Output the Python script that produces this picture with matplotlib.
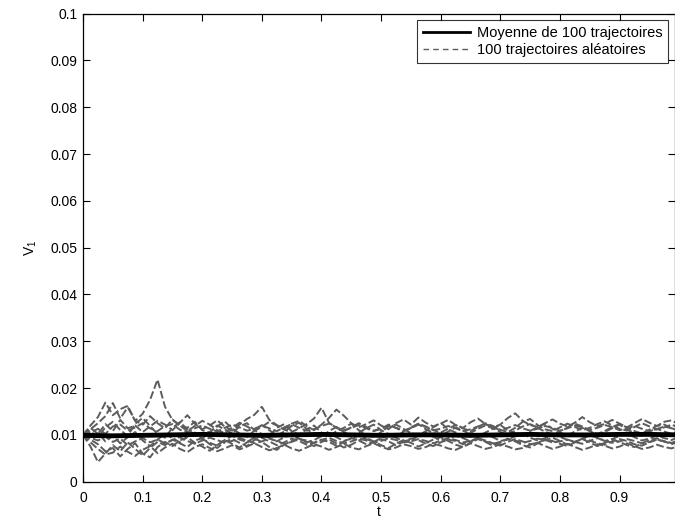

import matplotlib
matplotlib.use("Agg")
import matplotlib.pyplot as plt
import numpy as np

plt.rcParams["font.family"] = ["Liberation Sans", "DejaVu Sans"]

# values in units of 1e-3 (10.0 -> 0.010); each trajectory spans t = 0..1
traj_a = [10.0, 11.2, 12.5, 14.0, 16.8, 13.5, 15.9, 13.0, 14.5, 17.5, 21.8, 16.0, 13.2, 12.0, 11.5, 12.8,
          11.0, 10.5, 12.0, 11.2, 10.3, 11.8, 12.5, 11.0, 10.2, 9.8, 11.5, 12.3, 10.8, 10.0, 11.2, 12.0,
          10.5, 9.6, 10.8, 11.5, 12.4, 11.0, 10.1, 9.5, 10.6, 11.8, 12.2, 11.3, 10.4, 9.9, 10.8, 11.6,
          12.6, 11.2, 10.5, 9.8, 10.4, 11.3, 12.0, 11.4, 10.6, 10.0, 10.9, 11.8, 12.3, 11.5, 10.7, 10.1,
          10.8, 11.6, 12.4, 11.8, 10.9, 10.2, 10.8, 11.7, 12.3, 11.6, 10.8, 10.3, 11.1, 11.9, 12.2, 11.4, 10.9]
traj_b = [10.0, 7.5, 4.2, 6.0, 7.8, 6.5, 8.4, 7.0, 5.6, 7.2, 8.5, 7.8, 9.0, 8.2, 7.4, 8.8, 9.3, 8.0, 7.2,
          8.5, 9.1, 8.3, 7.6, 8.9, 9.4, 8.6, 7.8, 8.4, 9.2, 8.7, 7.9, 8.3, 9.0, 8.5, 7.7, 8.6, 9.3, 8.8,
          8.0, 8.4, 9.1, 8.6, 7.8, 8.5, 9.2, 8.9, 8.1, 7.6, 8.4, 9.0, 8.7, 8.0, 8.6, 9.3, 8.8, 8.2, 7.7,
          8.5, 9.1, 8.6, 8.0, 8.3, 9.0, 8.7, 8.1, 7.6, 8.4, 9.2, 8.8, 8.2, 7.9, 8.6, 9.1, 8.7, 8.0, 7.7,
          8.4, 9.0, 8.6, 8.2, 8.8]
traj_c = [10.0, 12.0, 13.8, 16.9, 14.2, 15.5, 16.2, 13.0, 12.2, 14.0, 12.5, 11.4, 13.3, 12.0, 10.8, 11.9,
          13.0, 12.2, 11.0, 10.4, 11.5, 12.6, 11.8, 10.9, 11.7, 12.8, 12.0, 11.1, 10.6, 11.4, 12.3, 13.5,
          15.8, 12.6, 11.5, 10.8, 11.6, 12.5, 11.7, 10.9, 11.3, 12.2, 11.5, 10.7, 11.6, 12.4, 11.8, 11.0,
          10.5, 11.3, 12.1, 11.4, 10.8, 11.7, 12.5, 11.9, 11.1, 10.6, 11.5, 12.8, 13.4, 12.1, 11.2, 10.8,
          11.6, 12.4, 11.7, 11.0, 11.5, 12.3, 12.9, 12.0, 11.3, 10.9, 11.7, 12.5, 11.8, 11.2, 11.6, 12.2, 11.5]
traj_d = [10.0, 9.0, 8.0, 6.5, 7.2, 5.4, 7.0, 8.2, 6.0, 5.2, 7.4, 8.5, 7.6, 8.8, 9.5, 8.3, 7.5, 6.6, 7.8,
          8.9, 8.1, 7.3, 8.4, 9.2, 8.5, 7.4, 6.8, 7.9, 8.7, 9.3, 8.4, 7.6, 8.5, 9.0, 8.2, 7.3, 7.9, 8.8,
          9.4, 8.6, 7.8, 7.2, 8.1, 8.9, 8.3, 7.5, 8.2, 9.0, 9.5, 8.7, 7.9, 7.4, 8.3, 9.1, 8.5, 7.7, 8.4,
          9.2, 8.6, 7.8, 7.3, 8.2, 8.9, 9.4, 8.7, 7.9, 8.5, 9.1, 8.4, 7.6, 8.3, 9.0, 8.5, 7.8, 7.4, 8.2,
          8.9, 9.3, 8.6, 8.0, 8.7]
traj_e = [10.0, 10.8, 9.5, 11.6, 12.8, 11.0, 9.8, 12.4, 13.6, 11.9, 10.2, 9.4, 11.5, 12.7, 11.2, 10.0,
          9.2, 10.6, 11.8, 12.9, 11.4, 10.3, 9.6, 10.9, 12.1, 11.0, 9.9, 10.7, 11.9, 12.6, 11.3, 10.1,
          9.5, 10.8, 11.7, 10.6, 9.8, 10.5, 11.4, 12.2, 11.0, 10.2, 9.7, 10.6, 11.5, 12.3, 11.2, 10.4,
          9.8, 10.7, 11.6, 10.9, 10.1, 9.6, 10.5, 11.3, 12.1, 11.0, 10.3, 9.9, 10.8, 11.7, 12.4, 11.3,
          10.5, 9.9, 10.7, 11.5, 10.8, 10.0, 10.6, 11.4, 12.2, 11.1, 10.4, 9.8, 10.6, 11.3, 10.7, 10.2, 10.9]
traj_f = [10.0, 9.2, 10.4, 8.6, 9.8, 8.2, 9.5, 10.6, 8.8, 7.6, 9.0, 10.2, 9.3, 8.4, 9.6, 10.5, 9.1, 8.3,
          7.7, 8.9, 9.8, 9.0, 8.5, 9.4, 10.2, 9.3, 8.6, 9.5, 10.1, 9.2, 8.4, 8.9, 9.7, 10.3, 9.5, 8.7,
          9.2, 9.9, 9.1, 8.5, 9.3, 10.0, 9.4, 8.6, 9.0, 9.8, 10.4, 9.6, 8.8, 9.1, 9.9, 9.3, 8.6, 9.4,
          10.1, 9.5, 8.7, 9.0, 9.7, 10.2, 9.4, 8.8, 9.3, 10.0, 9.6, 8.9, 8.5, 9.2, 9.9, 9.4, 8.7, 9.1,
          9.8, 10.3, 9.5, 8.8, 9.2, 9.9, 9.3, 8.9, 9.6]
traj_g = [10.0, 11.5, 10.2, 12.3, 10.8, 13.2, 11.4, 12.0, 10.6, 11.8, 13.0, 12.2, 11.0, 12.6, 14.2, 12.4,
          11.2, 12.0, 13.1, 11.8, 10.9, 12.2, 13.4, 14.3, 16.0, 13.2, 12.1, 11.3, 12.4, 13.0, 11.9, 11.0,
          12.2, 13.6, 15.4, 14.1, 12.5, 11.6, 12.3, 13.1, 12.0, 11.2, 12.5, 13.3, 12.2, 13.7, 12.6, 11.8,
          12.4, 13.2, 12.1, 11.5, 12.7, 13.5, 12.3, 11.6, 12.2, 13.6, 14.6, 13.0, 12.1, 11.7, 12.5, 13.3,
          12.4, 11.8, 12.6, 13.8, 12.7, 11.9, 12.3, 13.2, 12.4, 11.6, 12.5, 13.4, 12.6, 11.9, 12.8, 13.1, 12.2]
traj_h = [10.0, 8.4, 7.0, 5.8, 6.2, 7.5, 6.4, 5.5, 6.8, 7.6, 6.1, 7.3, 8.1, 7.0, 6.3, 7.4, 8.0, 7.2, 6.5,
          7.1, 7.8, 6.9, 7.5, 8.2, 7.4, 6.7, 7.2, 7.9, 7.1, 6.6, 7.3, 8.0, 7.5, 6.8, 7.4, 8.1, 7.3, 6.9,
          7.6, 8.2, 7.5, 6.9, 7.3, 8.0, 7.6, 7.0, 7.4, 8.1, 7.7, 7.1, 6.8, 7.5, 8.2, 7.6, 7.0, 7.4, 8.0,
          7.5, 6.9, 7.2, 7.9, 8.3, 7.6, 7.0, 7.5, 8.1, 7.4, 6.8, 7.3, 8.0, 7.7, 7.1, 7.5, 8.2, 7.6, 7.0,
          7.3, 7.9, 7.4, 7.1, 7.8]
traj_i = [10.0, 10.5, 11.3, 10.2, 11.8, 12.2, 10.9, 11.6, 12.5, 11.4, 10.8, 11.9, 12.3, 11.1, 10.6, 11.4,
          12.0, 11.3, 10.7, 11.5, 12.2, 11.6, 10.9, 11.3, 12.0, 11.4, 10.8, 11.6, 12.3, 11.5, 10.9, 11.2,
          11.9, 12.4, 11.6, 11.0, 11.5, 12.1, 11.4, 10.8, 11.3, 12.0, 11.5, 10.9, 11.4, 12.2, 11.7, 11.0,
          11.3, 11.9, 11.4, 10.8, 11.2, 11.8, 12.3, 11.6, 11.0, 11.5, 12.1, 11.4, 10.9, 11.3, 11.9, 11.5,
          10.9, 11.4, 12.0, 11.6, 11.1, 11.5, 12.1, 11.7, 11.0, 11.4, 11.9, 11.3, 10.8, 11.2, 11.8, 11.4, 11.0]
traj_j = [10.0, 9.4, 8.8, 9.6, 8.5, 9.2, 7.8, 8.6, 9.3, 8.4, 9.0, 8.2, 8.9, 9.5, 8.7, 8.1, 8.8, 9.4, 8.9,
          8.3, 8.7, 9.3, 8.8, 8.2, 8.6, 9.2, 8.7, 8.1, 8.5, 9.1, 8.8, 8.3, 8.9, 9.4, 8.7, 8.2, 8.6, 9.2,
          8.8, 8.3, 8.7, 9.3, 8.9, 8.4, 8.6, 9.1, 8.7, 8.2, 8.8, 9.3, 8.9, 8.4, 8.7, 9.2, 8.6, 8.1, 8.5,
          9.1, 8.8, 8.3, 8.7, 9.2, 8.9, 8.4, 8.6, 9.0, 8.5, 8.1, 8.7, 9.3, 8.8, 8.3, 8.6, 9.1, 8.7, 8.2,
          8.5, 9.0, 8.6, 8.3, 8.8]
trajectories = [traj_a, traj_b, traj_c, traj_d, traj_e, traj_f, traj_g, traj_h, traj_i, traj_j]

mean_v = [9.9, 9.8, 9.9, 10.0, 10.1, 10.0, 9.9, 10.0, 10.1, 10.0, 9.9, 10.0, 10.0, 9.9, 10.0, 10.1,
          10.0, 10.0, 10.1, 10.1, 10.0]

x_ticks = [0, 0.1, 0.2, 0.3, 0.4, 0.5, 0.6, 0.7, 0.8, 0.9]
y_ticks = [0, 0.01, 0.02, 0.03, 0.04, 0.05, 0.06, 0.07, 0.08, 0.09, 0.1]
y_tick_labels = ["0", "0.01", "0.02", "0.03", "0.04", "0.05", "0.06", "0.07", "0.08", "0.09", "0.1"]

fig = plt.figure(figsize=(6.75, 5.23), dpi=100)
ax = fig.add_axes([0.123, 0.079, 0.877, 0.895])

for i, traj in enumerate(trajectories):
    t = np.linspace(0, 1, len(traj))
    ax.plot(t, np.array(traj) * 1e-3, color="#5c5c5c", linewidth=1.4, linestyle=(0, (4, 1.5)),
            label="100 trajectoires aléatoires" if i == 0 else None, zorder=2)

t_mean = np.linspace(0, 1, len(mean_v))
ax.plot(t_mean, np.array(mean_v) * 1e-3, color="black", linewidth=3.5,
        label="Moyenne de 100 trajectoires", zorder=3)

ax.set_xlim(0, 0.993)
ax.set_ylim(0, 0.1)
ax.set_xticks(x_ticks)
ax.set_xticklabels([f"{v:g}" for v in x_ticks])
ax.set_yticks(y_ticks)
ax.set_yticklabels(y_tick_labels)
ax.tick_params(direction="in", top=True, right=True, length=5, width=0.8, labelsize=10)
ax.tick_params(axis="x", pad=7)
ax.tick_params(axis="y", pad=4)
for spine in ax.spines.values():
    spine.set_linewidth(0.9)

ax.set_xlabel("t", fontsize=10, labelpad=0)
ax.set_ylabel(r"$\mathregular{V_1}$", fontsize=10, labelpad=8)

handles, labels = ax.get_legend_handles_labels()
leg = ax.legend(handles[::-1], labels[::-1], loc="upper right", bbox_to_anchor=(0.99, 0.962),
                bbox_transform=fig.transFigure, fontsize=10.5, frameon=True, fancybox=False,
                handlelength=3.2, borderpad=0.4, labelspacing=0.25, handletextpad=0.5, borderaxespad=0)
leg.get_frame().set_edgecolor("black")
leg.get_frame().set_linewidth(0.8)
leg_lines = leg.get_lines()
leg_lines[0].set_linewidth(2.0)
leg_lines[1].set_linewidth(1.0)
leg_lines[1].set_linestyle((0, (4, 3)))

fig.savefig("out.png", dpi=100)
